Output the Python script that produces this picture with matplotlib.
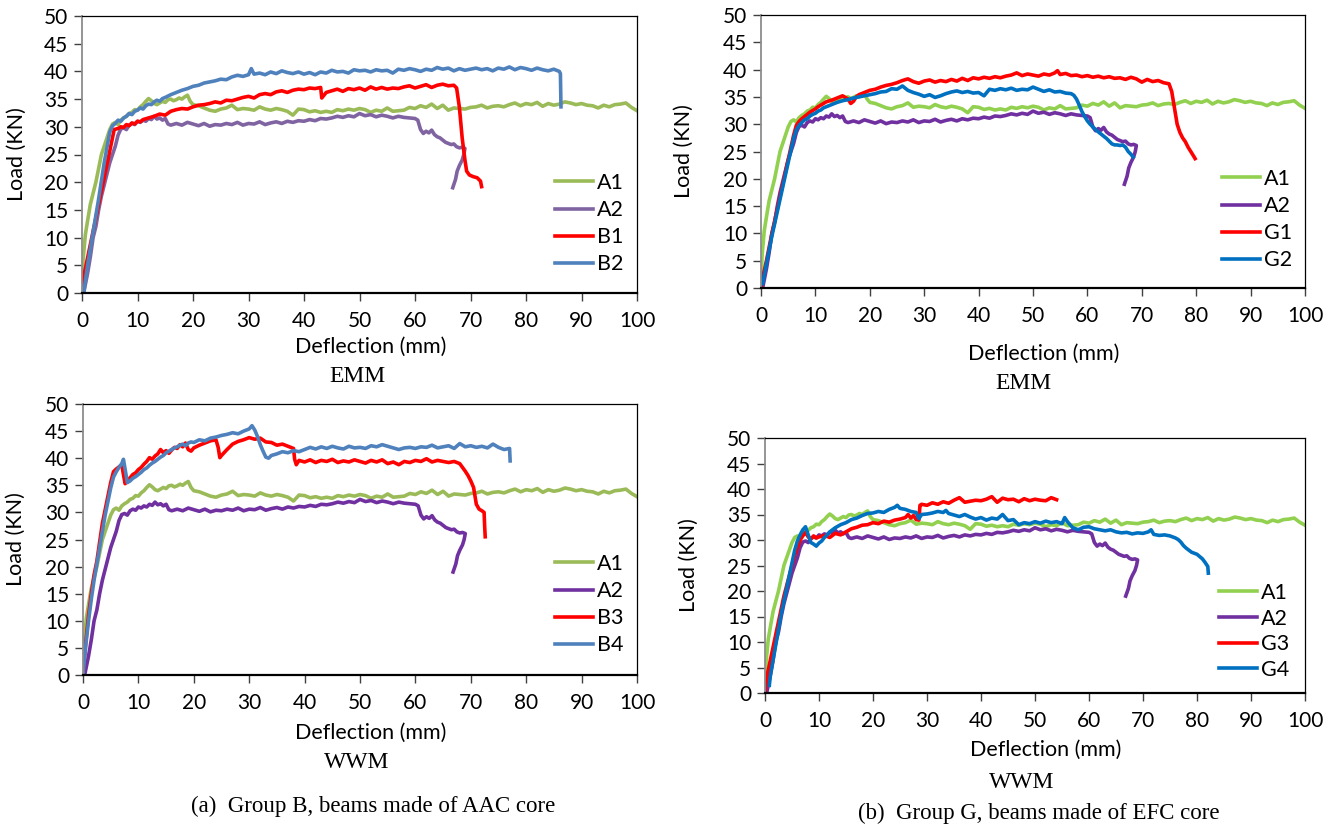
import matplotlib.pyplot as plt

# ---- data (deflection mm, load kN) ----
a1_x = [0, 0.2, 0.6, 1.0, 1.5, 2.0, 2.5, 3.0, 3.5, 4.0, 4.5, 5.0, 5.5, 6.0, 6.5, 7.0, 7.5, 8.0, 8.5, 9.0,
        9.5, 10.0, 10.5, 11.0, 11.5, 12.0, 12.5, 13.0, 13.5, 14.0, 14.5, 15.0, 15.5, 16.0, 16.5, 17.0, 17.5, 18.0,
        18.5, 19.0, 19.5, 20, 21, 22, 23, 24, 25, 26, 27, 28, 29, 30, 31, 32, 33, 34, 35, 36, 37, 38, 39, 40,
        41, 42, 43, 44, 45, 46, 47, 48, 49, 50, 51, 52, 53, 54, 55, 56, 57, 58, 59, 60, 61, 62, 63, 64, 65, 66,
        67, 68, 69, 70, 71, 72, 73, 74, 75, 76, 77, 78, 79, 80, 81, 82, 83, 84, 85, 86, 87, 88, 89, 90, 91, 92,
        93, 94, 95, 96, 97, 98, 99, 100]
a1_y = [1.0, 6, 10.5, 13, 16, 18, 20, 22.5, 25, 26.5, 28, 29.5, 30.5, 30.8, 30.4, 31.2, 31.6, 31.9, 32.4, 32.6,
        33.1, 33.0, 33.6, 34.0, 34.6, 35.1, 34.7, 34.2, 34.0, 34.3, 34.6, 34.4, 34.9, 35.0, 34.7, 34.9, 35.2, 35.0,
        35.4, 35.7, 34.6, 34.0, 33.8, 33.4, 33.0, 32.8, 33.2, 33.4, 33.9, 33.1, 33.3, 33.2, 33.0, 33.6, 33.2, 33.0,
        33.3, 33.1, 32.8, 32.1, 33.2, 33.1, 32.7, 32.9, 32.6, 32.8, 32.6, 33.1, 32.9, 33.2, 33.0, 33.3, 33.1, 32.6,
        33.0, 32.8, 33.4, 32.8, 32.9, 33.0, 33.5, 33.3, 33.8, 33.5, 34.1, 33.3, 33.9, 33.0, 33.4, 33.3, 33.2, 33.5,
        33.6, 33.9, 33.4, 33.7, 33.8, 33.6, 34.0, 34.3, 33.8, 34.2, 34.0, 34.4, 33.7, 34.2, 33.9, 34.1, 34.5, 34.3,
        34.0, 34.2, 33.9, 33.8, 33.4, 33.9, 33.6, 34.0, 34.1, 34.3, 33.5, 32.9]

a2_x = [0.3, 1, 1.5, 2, 2.5, 3, 3.5, 4, 4.5, 5, 5.5, 6, 6.5, 7, 7.5, 8, 8.5, 9, 9.5, 10, 10.5, 11, 11.5, 12,
        12.5, 13, 13.5, 14, 14.5, 15, 15.5, 16, 17, 18, 19, 20, 21, 22, 23, 24, 25, 26, 27, 28, 29, 30, 31, 32,
        33, 34, 35, 36, 37, 38, 39, 40, 41, 42, 43, 44, 45, 46, 47, 48, 49, 50, 51, 52, 53, 54, 55, 56, 57, 58,
        59, 60, 60.5, 61, 61.5, 62, 62.5, 63, 63.5, 64, 64.5, 65, 65.5, 66, 66.5, 67, 67.5, 68, 68.5, 69,
        68.8, 68.5, 68.0, 67.6, 67.3, 66.8]
a2_y = [0, 3.5, 6.5, 10, 12, 15, 17.5, 19.5, 21.5, 23.5, 25, 26.5, 28.5, 29.6, 29.8, 29.5, 30.3, 30.6, 30.4, 31.0,
        30.8, 31.2, 31.0, 31.5, 31.3, 31.9, 31.4, 31.6, 31.2, 31.5, 30.5, 30.3, 30.6, 30.3, 30.8, 30.5, 30.2, 30.6,
        30.1, 30.4, 30.3, 30.6, 30.4, 30.8, 30.3, 30.6, 30.5, 30.9, 30.4, 30.7, 30.9, 30.6, 31.0, 30.8, 31.1, 31.0,
        31.3, 31.1, 31.5, 31.4, 31.6, 31.9, 31.7, 32.0, 31.8, 32.4, 32.0, 32.2, 31.8, 32.1, 31.9, 31.6, 31.9, 31.7,
        31.6, 31.5, 31.2, 29.5, 28.8, 29.2, 28.9, 29.4, 28.6, 28.2, 28.0, 27.6, 27.2, 27.0, 26.8, 26.9, 26.4, 26.2,
        26.3, 26.1, 25.0, 24.0, 23.0, 22.0, 20.5, 19.0]

b1_x = [0, 5.8, 6.5, 7, 7.5, 8, 8.5, 9, 9.5, 10, 10.5, 11, 12, 13, 14, 15, 16, 17, 18, 19, 20, 21, 22, 23, 24,
        25, 26, 27, 28, 29, 30, 31, 32, 33, 34, 35, 36, 37, 38, 39, 40, 41, 42, 43, 43.2, 44, 45, 46, 47, 48, 49,
        50, 51, 52, 53, 54, 55, 56, 57, 58, 59, 60, 61, 62, 63, 64, 65, 66, 67, 67.5, 68, 68.5, 69, 69.3, 69.8,
        70.5, 71.2, 71.8, 72]
b1_y = [1.5, 29.5, 29.7, 30.0, 29.9, 30.4, 30.2, 30.7, 30.5, 31.0, 30.9, 31.3, 31.6, 31.9, 32.3, 32.1, 32.8, 33.1,
        33.3, 33.2, 33.6, 33.9, 34.0, 34.2, 34.5, 34.3, 34.8, 34.7, 35.0, 35.3, 35.5, 35.2, 35.8, 36.0, 35.8, 36.3,
        36.5, 36.2, 36.6, 36.8, 36.7, 37.0, 36.9, 37.1, 35.2, 36.2, 36.5, 36.8, 36.4, 36.9, 36.7, 37.0, 36.6, 37.2,
        36.8, 37.1, 36.8, 37.0, 36.9, 37.2, 37.4, 37.0, 37.3, 37.6, 37.1, 37.5, 37.7, 37.4, 37.5, 37.0, 33.5, 28.0,
        24.0, 22.0, 21.3, 21.0, 20.8, 20.2, 19.2]

b2_x = [0.3, 1, 2, 3, 4, 5, 5.5, 6, 6.5, 7, 7.5, 8, 8.5, 9, 9.5, 10, 10.5, 11, 11.5, 12, 12.5, 13, 13.5, 14,
        14.5, 15, 16, 17, 18, 19, 20, 21, 22, 23, 24, 25, 26, 27, 28, 29, 30, 30.5, 31, 32, 33, 34, 35, 36, 37,
        38, 39, 40, 41, 42, 43, 44, 45, 46, 47, 48, 49, 50, 51, 52, 53, 54, 55, 56, 57, 58, 59, 60, 61, 62, 63,
        64, 65, 66, 67, 68, 69, 70, 71, 72, 73, 74, 75, 76, 77, 78, 79, 80, 81, 82, 83, 84, 85, 86, 86.2, 86.3]
b2_y = [0, 5, 11, 17, 23.5, 29, 30.2, 30.6, 31.2, 31.0, 31.6, 31.9, 32.4, 32.2, 32.8, 33.0, 33.4, 33.2, 33.8, 34.1,
        34.0, 34.5, 34.8, 34.6, 35.1, 35.3, 35.8, 36.2, 36.6, 36.9, 37.3, 37.5, 37.9, 38.1, 38.3, 38.6, 38.5, 39.0,
        39.3, 39.1, 39.4, 40.5, 39.5, 39.7, 39.4, 39.9, 39.6, 40.1, 39.8, 39.6, 39.9, 39.5, 39.8, 39.4, 39.9, 39.7,
        40.2, 39.9, 40.0, 39.7, 40.3, 40.1, 40.2, 39.9, 40.3, 40.1, 40.2, 39.7, 40.4, 40.2, 40.5, 40.3, 40.0, 40.4,
        40.2, 40.7, 40.4, 40.6, 40.1, 40.5, 40.2, 40.4, 40.6, 40.3, 40.5, 40.1, 40.6, 40.4, 40.8, 40.3, 40.7, 40.5,
        40.2, 40.6, 40.3, 40.1, 40.4, 40.0, 39.6, 33.6]

g1_x = [0, 1, 2, 3, 4, 5, 6, 6.5, 7, 7.5, 8, 8.5, 9, 9.5, 10, 10.5, 11, 11.5, 12, 13, 14, 15, 16, 16.5, 17,
        17.5, 18, 19, 20, 21, 22, 23, 24, 25, 26, 27, 28, 29, 30, 31, 32, 33, 34, 35, 36, 37, 38, 39, 40, 41,
        42, 43, 44, 45, 46, 47, 48, 49, 50, 51, 52, 53, 54, 54.5, 55, 56, 57, 58, 59, 60, 61, 62, 63, 64, 65,
        66, 67, 68, 69, 70, 71, 72, 73, 74, 75, 75.5, 76, 76.5, 77, 77.5, 78, 78.5, 79, 79.5, 79.8]
g1_y = [0.5, 5, 10, 14.5, 19, 23.5, 28, 29.8, 30.5, 31.0, 31.4, 31.8, 32.2, 32.5, 32.8, 33.2, 33.5, 33.8, 34.1,
        34.4, 34.8, 35.2, 34.6, 33.8, 34.2, 35.0, 35.4, 35.8, 36.2, 36.4, 36.8, 37.1, 37.3, 37.6, 38.0, 38.3, 37.8,
        37.5, 37.9, 38.1, 37.7, 38.0, 37.8, 38.2, 37.9, 38.4, 38.0, 38.5, 38.3, 38.6, 38.4, 38.7, 38.5, 38.8, 39.0,
        39.4, 38.9, 39.2, 39.0, 38.8, 39.2, 39.0, 39.4, 39.8, 39.1, 39.3, 38.9, 39.0, 38.7, 38.9, 38.6, 38.8, 38.5,
        38.7, 38.4, 38.5, 38.2, 38.6, 38.3, 37.7, 38.2, 37.8, 38.0, 37.6, 37.4, 36.0, 33.0, 30.0, 28.5, 27.5, 26.8,
        25.8, 25.0, 24.2, 23.7]

g2_x = [0.3, 1, 2, 3, 4, 5, 6, 6.5, 7, 7.5, 8, 8.5, 9, 9.5, 10, 10.5, 11, 11.5, 12, 13, 14, 15, 16, 17, 18,
        19, 20, 21, 22, 23, 24, 25, 26, 27, 28, 29, 30, 31, 32, 33, 34, 35, 36, 37, 38, 39, 40, 41, 42, 43, 44,
        45, 46, 47, 48, 49, 50, 51, 52, 53, 54, 55, 56, 57, 57.5, 58, 58.5, 59, 59.5, 60, 60.5, 61, 61.5, 62,
        62.5, 63, 63.5, 64, 64.5, 65, 65.5, 66, 66.5, 67, 67.5, 68, 68.4]
g2_y = [0.8, 4.5, 9.5, 14, 18.5, 23, 27.5, 29.0, 29.8, 30.3, 30.8, 31.0, 31.5, 31.8, 32.0, 32.4, 32.6, 33.0, 33.2,
        33.6, 34.0, 34.3, 34.5, 34.8, 35.0, 35.2, 35.4, 35.6, 35.9, 36.0, 36.5, 36.4, 37.0, 36.2, 35.8, 35.5, 35.1,
        35.4, 34.9, 35.2, 35.6, 35.9, 36.1, 35.8, 36.0, 35.7, 35.8, 35.2, 36.4, 36.2, 36.5, 36.3, 36.6, 36.2, 36.4,
        36.3, 36.8, 36.4, 36.0, 36.3, 35.9, 36.0, 35.7, 35.6, 35.3, 34.6, 33.5, 32.3, 31.4, 30.6, 30.0, 29.5, 29.0,
        28.6, 28.2, 27.8, 27.4, 26.9, 26.4, 26.2, 26.2, 26.1, 26.2, 25.8, 25.0, 24.5, 24.0]

b3_x = [0, 0.5, 1, 1.5, 2, 2.5, 3, 3.5, 4, 4.5, 5, 5.5, 6, 6.5, 7, 7.3, 7.6, 8, 8.5, 9, 9.5, 10, 10.5, 11,
        11.5, 12, 12.5, 13, 13.5, 14, 14.5, 15, 15.5, 16, 16.5, 17, 17.5, 18, 18.5, 19, 19.5, 20, 21, 22, 23,
        24, 24.4, 24.7, 25, 26, 27, 28, 29, 30, 31, 32, 33, 34, 35, 36, 37, 38, 38.2, 38.5, 39, 40, 41, 42, 43,
        44, 45, 46, 47, 48, 49, 50, 51, 52, 53, 54, 55, 56, 57, 58, 59, 60, 61, 62, 63, 64, 65, 66, 67, 68,
        68.5, 69, 69.5, 70, 70.5, 71, 71.5, 72, 72.4, 72.5, 72.6]
b3_y = [0, 6, 11, 15, 18.5, 21, 24.5, 28, 30.5, 33, 35.5, 37.5, 38.0, 38.4, 38.8, 37.0, 35.3, 35.8, 36.4, 37.0,
        37.3, 37.9, 38.3, 38.9, 39.4, 40.1, 39.8, 40.4, 40.8, 41.6, 41.0, 41.4, 40.9, 41.5, 42.0, 41.8, 42.5, 42.1,
        42.8, 41.6, 41.3, 41.9, 42.4, 42.8, 43.2, 43.4, 42.0, 40.1, 40.5, 41.6, 42.6, 43.1, 43.4, 43.8, 43.5, 43.7,
        43.0, 42.9, 42.4, 42.6, 42.2, 41.8, 39.8, 38.8, 39.6, 39.3, 39.7, 39.2, 39.6, 39.4, 39.8, 39.2, 39.5, 39.3,
        39.7, 39.4, 39.1, 39.6, 39.3, 39.7, 39.0, 39.3, 38.8, 39.4, 39.2, 39.6, 39.4, 39.9, 39.3, 39.6, 39.4, 39.2,
        39.4, 39.0, 38.3, 37.6, 36.8, 35.8, 34.6, 31.5, 30.6, 30.3, 30.0, 27.5, 25.5]

b4_x = [0, 0.5, 1, 1.5, 2, 2.5, 3, 3.5, 4, 4.5, 5, 5.5, 6, 6.5, 7, 7.3, 7.6, 8, 8.5, 9, 9.5, 10, 10.5, 11,
        11.5, 12, 12.5, 13, 13.5, 14, 14.5, 15, 15.5, 16, 16.5, 17, 17.5, 18, 18.5, 19, 19.5, 20, 21, 22, 23,
        24, 25, 26, 27, 28, 29, 30, 30.5, 31, 31.5, 32, 32.5, 33, 33.5, 34, 35, 36, 37, 38, 39, 40, 41, 42, 43,
        44, 45, 46, 47, 48, 49, 50, 51, 52, 53, 54, 55, 56, 57, 58, 59, 60, 61, 62, 63, 64, 65, 66, 67, 68, 69,
        70, 71, 72, 73, 74, 75, 76, 77, 77.1]
b4_y = [0, 5.5, 10, 14, 17.5, 20.5, 23.5, 26.5, 29.5, 32.0, 34.5, 36.5, 37.5, 38.3, 39.0, 39.8, 38.0, 35.5, 35.8,
        36.3, 36.6, 37.0, 37.4, 37.9, 38.2, 38.7, 39.1, 39.4, 39.8, 40.2, 40.5, 41.0, 41.3, 41.6, 41.9, 42.1, 42.4,
        42.6, 42.3, 42.8, 43.0, 42.9, 43.4, 43.2, 43.7, 43.9, 44.2, 44.4, 44.7, 44.5, 45.0, 45.4, 46.0, 45.2, 44.0,
        42.5, 41.3, 40.2, 40.0, 40.5, 40.8, 41.2, 41.0, 41.4, 41.2, 41.6, 42.0, 41.7, 42.1, 41.8, 42.2, 41.9, 41.7,
        42.2, 41.9, 42.0, 41.8, 42.3, 42.1, 42.5, 42.2, 41.9, 41.6, 41.9, 42.0, 41.8, 42.1, 42.0, 42.4, 41.9, 42.1,
        42.3, 41.8, 42.7, 42.1, 42.3, 42.0, 42.2, 41.9, 42.6, 42.0, 41.6, 41.8, 39.5]

g3_x = [0, 0.5, 1, 1.5, 2, 2.5, 3, 3.5, 4, 4.5, 5, 5.5, 6, 6.5, 7, 7.5, 8, 8.5, 9, 9.5, 10, 11, 12, 13, 14, 15,
        16, 17, 18, 19, 20, 21, 22, 23, 24, 25, 26, 26.5, 27, 27.5, 28, 28.5, 28.7, 29, 30, 31, 32, 33, 34, 35,
        36, 37, 38, 39, 40, 41, 42, 43, 44, 45, 46, 47, 48, 49, 50, 51, 52, 53, 54]
g3_y = [0.5, 4, 6.5, 9, 11.5, 14, 16.5, 19, 21, 23, 25, 27, 28.5, 30, 30.8, 31.5, 30.6, 30.2, 30.8, 30.4, 30.6,
        30.9, 30.5, 31.3, 31.0, 31.6, 32.2, 32.5, 32.9, 33.0, 33.4, 33.2, 33.7, 33.5, 33.9, 34.1, 34.4, 35.0, 34.3,
        34.8, 34.0, 33.9, 36.8, 37.0, 36.8, 37.3, 37.0, 37.5, 37.2, 37.8, 38.3, 37.4, 37.6, 37.8, 37.7, 38.0, 38.5,
        37.4, 38.2, 37.9, 38.0, 37.5, 38.1, 37.7, 38.0, 37.8, 37.7, 38.3, 37.9]

g4_x = [0.8, 1, 1.5, 2, 2.5, 3, 3.5, 4, 4.5, 5, 5.5, 6, 6.5, 7, 7.5, 8, 8.5, 9, 9.5, 10, 10.5, 11, 11.5, 12, 13,
        14, 15, 16, 17, 18, 19, 20, 21, 22, 23, 24, 24.5, 25, 26, 27, 28, 28.5, 29, 30, 31, 32, 33, 33.5, 34,
        35, 36, 37, 38, 39, 40, 41, 42, 43, 44, 45, 46, 47, 48, 49, 50, 51, 52, 53, 54, 55, 55.5, 56, 57, 58,
        59, 60, 61, 62, 63, 64, 65, 66, 67, 68, 69, 70, 71, 71.5, 72, 73, 74, 75, 76, 76.5, 77, 77.5, 78, 79,
        80, 81, 81.5, 82, 82.1]
g4_y = [1.5, 3.5, 6.5, 9.5, 12.5, 15.5, 18, 20.5, 23, 25.5, 28, 29.8, 31.0, 32.0, 32.6, 31.0, 29.5, 29.2, 28.8,
        29.4, 29.8, 30.5, 31.0, 31.6, 32.4, 33.0, 33.4, 34.0, 34.3, 34.8, 35.2, 35.3, 35.6, 35.4, 36.0, 36.4, 36.8,
        36.2, 36.0, 35.6, 35.4, 34.2, 35.0, 35.1, 35.3, 35.6, 35.4, 35.8, 35.2, 34.9, 34.6, 35.0, 34.5, 34.1, 34.4,
        33.9, 34.3, 34.1, 35.0, 33.8, 34.0, 33.0, 33.4, 33.2, 33.6, 33.3, 33.7, 33.4, 33.6, 33.2, 34.4, 33.6, 32.4,
        32.0, 32.5, 32.6, 32.2, 32.0, 31.8, 32.0, 31.6, 31.4, 31.5, 31.2, 31.4, 31.3, 31.6, 32.0, 31.1, 30.9, 31.0,
        30.8, 30.4, 30.1, 29.6, 28.9, 28.4, 27.6, 27.2, 26.3, 25.6, 24.8, 23.5]

plt.rcParams['font.family'] = ['Lato', 'DejaVu Sans']

W, H = 1337, 824
fig = plt.figure(figsize=(W / 100, H / 100), dpi=100)


def make_axes(x0, x100, y50, y0):
    ax = fig.add_axes([x0 / W, 1 - y0 / H, (x100 - x0) / W, (y0 - y50) / H])
    ax.set_xlim(0, 100)
    ax.set_ylim(0, 50)
    ax.set_xticks(range(0, 101, 10))
    ax.set_yticks(range(0, 51, 5))
    ax.tick_params(labelsize=15, direction='out', length=6, width=1, color='#404040')
    ax.tick_params(axis='x', pad=7)
    ax.tick_params(axis='y', pad=4)
    ax.spines['left'].set_color('#8c8c8c')
    ax.spines['left'].set_linewidth(1.3)
    ax.spines['bottom'].set_linewidth(1.6)
    for s in ('top', 'right'):
        ax.spines[s].set_linewidth(0.9)
    return ax


def draw(ax, curves, legend_px, spacing, xl_y, yl_x, sub, sub_px):
    for x, y, c, lab in curves:
        ax.plot(x, y, color=c, lw=2.6, label=lab, solid_joinstyle='round')
    ax.set_xlabel('Deflection (mm)', fontsize=15.5)
    ax.set_ylabel('Load (KN)', fontsize=15.5)
    ax.xaxis.set_label_coords(0.52, xl_y)
    ax.yaxis.set_label_coords(yl_x, 0.5)
    fig.legend(handles=ax.get_lines(), loc='upper left', frameon=False, fontsize=15.5,
               bbox_to_anchor=(legend_px[0] / W, 1 - legend_px[1] / H),
               borderpad=0, borderaxespad=0, handlelength=1.75, handletextpad=0.2,
               labelspacing=spacing)
    fig.text(sub_px[0] / W, 1 - sub_px[1] / H, sub, ha='center', va='center',
             family='Liberation Serif', fontsize=17)


green1, purple1 = '#9bbb59', '#8064a2'
green2, purple2 = '#92d050', '#7030a0'
red, blue1, blue2 = '#ff0000', '#4f81bd', '#0070c0'

ax1 = make_axes(82, 637, 16, 293)
draw(ax1, [(a1_x, a1_y, green1, 'A1'), (a2_x, a2_y, purple1, 'A2'),
           (b1_x, b1_y, red, 'B1'), (b2_x, b2_y, blue1, 'B2')],
     (555, 173), 0.33, -0.16, -0.10, 'EMM', (357, 377))

ax2 = make_axes(761, 1305, 15, 288)
draw(ax2, [(a1_x, a1_y, green2, 'A1'), (a2_x, a2_y, purple2, 'A2'),
           (g1_x, g1_y, red, 'G1'), (g2_x, g2_y, blue2, 'G2')],
     (1222, 169), 0.33, -0.205, -0.123, 'EMM', (1023, 383))

ax3 = make_axes(83, 637, 404, 675)
draw(ax3, [(a1_x, a1_y, green1, 'A1'), (a2_x, a2_y, purple2, 'A2'),
           (b3_x, b3_y, red, 'B3'), (b4_x, b4_y, blue1, 'B4')],
     (555, 554), 0.33, -0.177, -0.103, 'WWM', (357, 763))

ax4 = make_axes(765, 1305, 438, 693)
draw(ax4, [(a1_x, a1_y, green2, 'A1'), (a2_x, a2_y, purple2, 'A2'),
           (g3_x, g3_y, red, 'G3'), (g4_x, g4_y, blue2, 'G4')],
     (1219, 583), 0.26, -0.184, -0.122, 'WWM', (1022, 783))

fig.text(373 / W, 1 - 806 / H, '(a)  Group B, beams made of AAC core', ha='center', va='center',
         family='Liberation Serif', fontsize=16.5)
fig.text(1039 / W, 1 - 813 / H, '(b)  Group G, beams made of EFC core', ha='center', va='center',
         family='Liberation Serif', fontsize=16.5)

fig.savefig('out.png', dpi=100)
